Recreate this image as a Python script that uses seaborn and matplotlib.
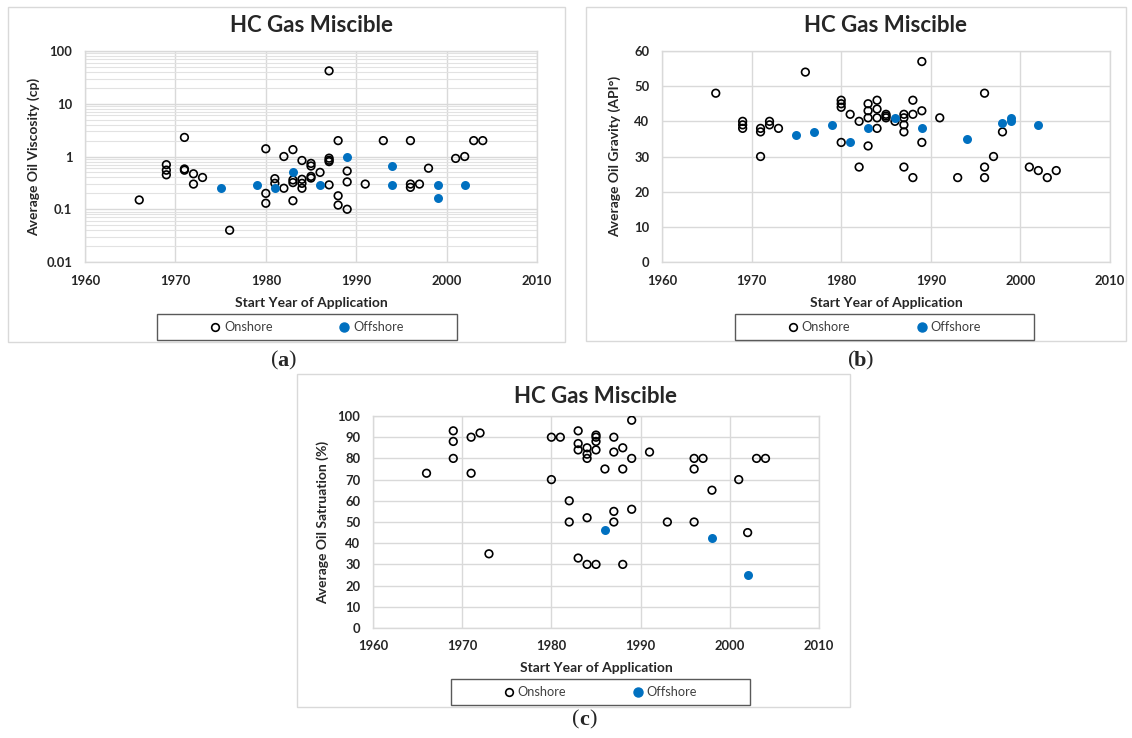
import matplotlib
matplotlib.use("Agg")
import matplotlib.pyplot as plt
import seaborn as sns
import pandas as pd
from matplotlib.patches import Rectangle
from matplotlib.lines import Line2D
from matplotlib.ticker import LogLocator, FuncFormatter, MultipleLocator, NullFormatter

# ---- data ----
# (a) viscosity, cp
visc_on_year = [1966, 1969, 1969, 1969, 1971, 1971, 1971, 1972, 1972, 1973, 1976,
                1980, 1980, 1980, 1981, 1981, 1982, 1982, 1983, 1983, 1983, 1983,
                1984, 1984, 1984, 1984, 1985, 1985, 1985, 1985, 1986,
                1987, 1987, 1987, 1987, 1987, 1988, 1988, 1988, 1989, 1989, 1989,
                1991, 1993, 1996, 1996, 1996, 1997, 1998, 2001, 2002, 2003, 2004]
visc_on_val = [0.15, 0.7, 0.55, 0.45, 2.3, 0.58, 0.55, 0.47, 0.3, 0.4, 0.04,
               1.4, 0.2, 0.13, 0.38, 0.31, 1.0, 0.25, 1.35, 0.36, 0.32, 0.145,
               0.84, 0.37, 0.31, 0.25, 0.74, 0.66, 0.42, 0.39, 0.5,
               42, 0.93, 0.85, 0.8, 0.29, 2.0, 0.18, 0.12, 0.53, 0.33, 0.1,
               0.3, 2.0, 2.0, 0.3, 0.26, 0.3, 0.6, 0.92, 1.0, 2.0, 2.0]
visc_off_year = [1975, 1979, 1981, 1983, 1986, 1989, 1994, 1994, 1999, 1999, 2002]
visc_off_val = [0.25, 0.29, 0.25, 0.5, 0.29, 1.0, 0.65, 0.29, 0.29, 0.16, 0.29]

# (b) API gravity
api_on_year = [1966, 1969, 1969, 1969, 1971, 1971, 1971, 1972, 1972, 1973, 1976,
               1980, 1980, 1980, 1980, 1981, 1982, 1982, 1983, 1983, 1983, 1983,
               1984, 1984, 1984, 1984, 1985, 1985, 1985, 1986,
               1987, 1987, 1987, 1987, 1987, 1988, 1988, 1988, 1989, 1989, 1989,
               1991, 1993, 1996, 1996, 1996, 1997, 1998, 2001, 2002, 2003, 2004]
api_on_val = [48, 40, 39, 38, 38, 37, 30, 40, 39, 38, 54,
              46, 45, 44, 34, 42, 40, 27, 45, 43, 41, 33,
              46, 43.5, 41, 38, 42, 41.5, 41, 40,
              42, 41, 39, 37, 27, 46, 42, 24, 57, 43, 34,
              41, 24, 48, 27, 24, 30, 37, 27, 26, 24, 26]
api_off_year = [1975, 1977, 1979, 1981, 1983, 1986, 1989, 1994, 1998, 1999, 1999, 2002]
api_off_val = [36, 37, 39, 34, 38, 41, 38, 35, 39.5, 41, 40, 39]

# (c) oil saturation, %
so_on_year = [1966, 1969, 1969, 1969, 1971, 1971, 1972, 1973, 1980, 1980, 1981,
              1982, 1982, 1983, 1983, 1983, 1983, 1984, 1984, 1984, 1984, 1984,
              1985, 1985, 1985, 1985, 1985, 1986, 1987, 1987, 1987, 1987,
              1988, 1988, 1988, 1989, 1989, 1989, 1991, 1993, 1996, 1996, 1996,
              1997, 1998, 2001, 2002, 2003, 2004]
so_on_val = [73, 93, 88, 80, 90, 73, 92, 35, 90, 70, 90,
             60, 50, 93, 87, 84, 33, 85, 82, 80, 52, 30,
             91, 90, 88, 84, 30, 75, 90, 83, 55, 50,
             85, 75, 30, 98, 80, 56, 83, 50, 80, 75, 50,
             80, 65, 70, 45, 80, 80]
so_off_year = [1986, 1998, 2002]
so_off_val = [46, 42.5, 25]

series_labels = ['Onshore', 'Offshore']
title = 'HC Gas Miscible'
xlabel = 'Start Year of Application'

# ---- style ----
sns.set_style("white")
plt.rcParams['font.family'] = ['Lato', 'DejaVu Sans']

W, H = 1132, 738
BLUE = '#0070C0'
GRID = '#d9d9d9'

fig = plt.figure(figsize=(W / 100, H / 100), dpi=100)


def fx(x):
    return x / W


def fy(y):
    return 1 - y / H


def box(x0, y0, x1, y1, color, lw):
    fig.add_artist(Rectangle((fx(x0), fy(y1)), (x1 - x0) / W, (y1 - y0) / H,
                             transform=fig.transFigure, fill=False,
                             edgecolor=color, lw=lw))


def panel(rect, on_x, on_y, off_x, off_y, ylabel, legbox, letter, letter_pos,
          title_y, xlabel_y):
    x0, y0, x1, y1 = rect
    ax = fig.add_axes([fx(x0), fy(y1), (x1 - x0) / W, (y1 - y0) / H])

    on = pd.DataFrame({'year': on_x, 'value': on_y})
    off = pd.DataFrame({'year': off_x, 'value': off_y})
    sns.scatterplot(data=on, x='year', y='value', ax=ax, marker='o', s=30,
                    color='black', linewidth=1.2, zorder=3)
    pts = ax.collections[-1]
    pts.set_facecolor('none')
    pts.set_edgecolor('black')
    sns.scatterplot(data=off, x='year', y='value', ax=ax, marker='o', s=42,
                    color=BLUE, linewidth=0, zorder=4)

    ax.set_xlim(1960, 2010)
    ax.xaxis.set_major_locator(MultipleLocator(10))
    ax.grid(True, which='major', color=GRID, lw=1.0)
    for s in ax.spines.values():
        s.set_color(GRID)
        s.set_linewidth(1.0)
    ax.tick_params(length=0, labelsize=9.4, pad=9)

    ax.set_xlabel(xlabel, fontsize=10, fontweight='bold')
    ax.xaxis.label.set_va('center')
    ax.xaxis.set_label_coords(0.5, xlabel_y)
    ax.set_ylabel(ylabel, fontsize=10, fontweight='bold')
    ax.yaxis.label.set_va('center')
    ax.yaxis.set_label_coords(-0.113, 0.5)
    ax.text(0.5, title_y, title, transform=ax.transAxes, ha='center',
            va='center', fontsize=16, fontweight='bold')

    # legend box under the axis title
    lx0, ly0, lx1, ly1 = legbox
    box(lx0, ly0, lx1, ly1, '#595959', 1.0)
    handles = [Line2D([], [], marker='o', ls='none', mfc='none', mec='black',
                      mew=1.2, ms=5.5),
               Line2D([], [], marker='o', ls='none', mfc=BLUE, mec=BLUE, ms=6.5)]
    ax.legend(handles, series_labels, loc='center',
              bbox_to_anchor=(fx((lx0 + lx1) / 2), fy((ly0 + ly1) / 2)),
              bbox_transform=fig.transFigure, frameon=False, ncol=2,
              handlelength=0.8, handletextpad=0.3, columnspacing=5.2,
              prop={'size': 9.2}, labelcolor='#404040')

    # panel letter, serif with bold letter
    cx, cy = letter_pos
    fig.text(fx(cx - 5), fy(cy), '(', ha='right', va='center',
             family='Liberation Serif', fontsize=16)
    fig.text(fx(cx), fy(cy), letter, ha='center', va='center',
             family='Liberation Serif', fontsize=16, fontweight='bold')
    fig.text(fx(cx + 5), fy(cy), ')', ha='left', va='center',
             family='Liberation Serif', fontsize=16)
    return ax


# (a)
box(8, 7, 565, 342, GRID, 1.0)
ax_a = panel((85, 51, 537, 262), visc_on_year, visc_on_val,
             visc_off_year, visc_off_val, 'Average Oil Viscosity (cp)',
             (157, 314, 457, 340), 'a', (283, 361), 1.123, -0.194)
ax_a.set_yscale('log')
ax_a.set_ylim(0.01, 100)
ax_a.yaxis.set_major_locator(LogLocator(base=10, numticks=10))
ax_a.yaxis.set_minor_locator(LogLocator(base=10, subs=range(2, 10), numticks=20))
ax_a.yaxis.set_major_formatter(FuncFormatter(lambda v, p: f'{v:g}'))
ax_a.yaxis.set_minor_formatter(NullFormatter())
ax_a.grid(True, axis='y', which='minor', color='#e2e2e2', lw=0.8)
ax_a.tick_params(which='minor', length=0)

# (b)
box(586, 7, 1126, 341, GRID, 1.0)
ax_b = panel((662, 51, 1110, 262), api_on_year, api_on_val,
             api_off_year, api_off_val, 'Average Oil Gravity (API°)',
             (735, 314, 1034, 340), 'b', (860, 361), 1.123, -0.194)
ax_b.set_ylim(0, 60)
ax_b.yaxis.set_major_locator(MultipleLocator(10))
ax_b.yaxis.set_label_coords(-0.106, 0.5)

# (c)
box(297, 374, 850, 707, GRID, 1.0)
ax_c = panel((373, 416, 819, 628), so_on_year, so_on_val,
             so_off_year, so_off_val, 'Average Oil Satruation (%)',
             (451, 679, 750, 705), 'c', (584, 720), 1.09, -0.19)
ax_c.set_ylim(0, 100)
ax_c.yaxis.set_major_locator(MultipleLocator(10))

for ax in (ax_a, ax_b, ax_c):
    for t in ax.get_xticklabels() + ax.get_yticklabels():
        t.set_fontweight('bold')

fig.savefig('out.png', dpi=100)
